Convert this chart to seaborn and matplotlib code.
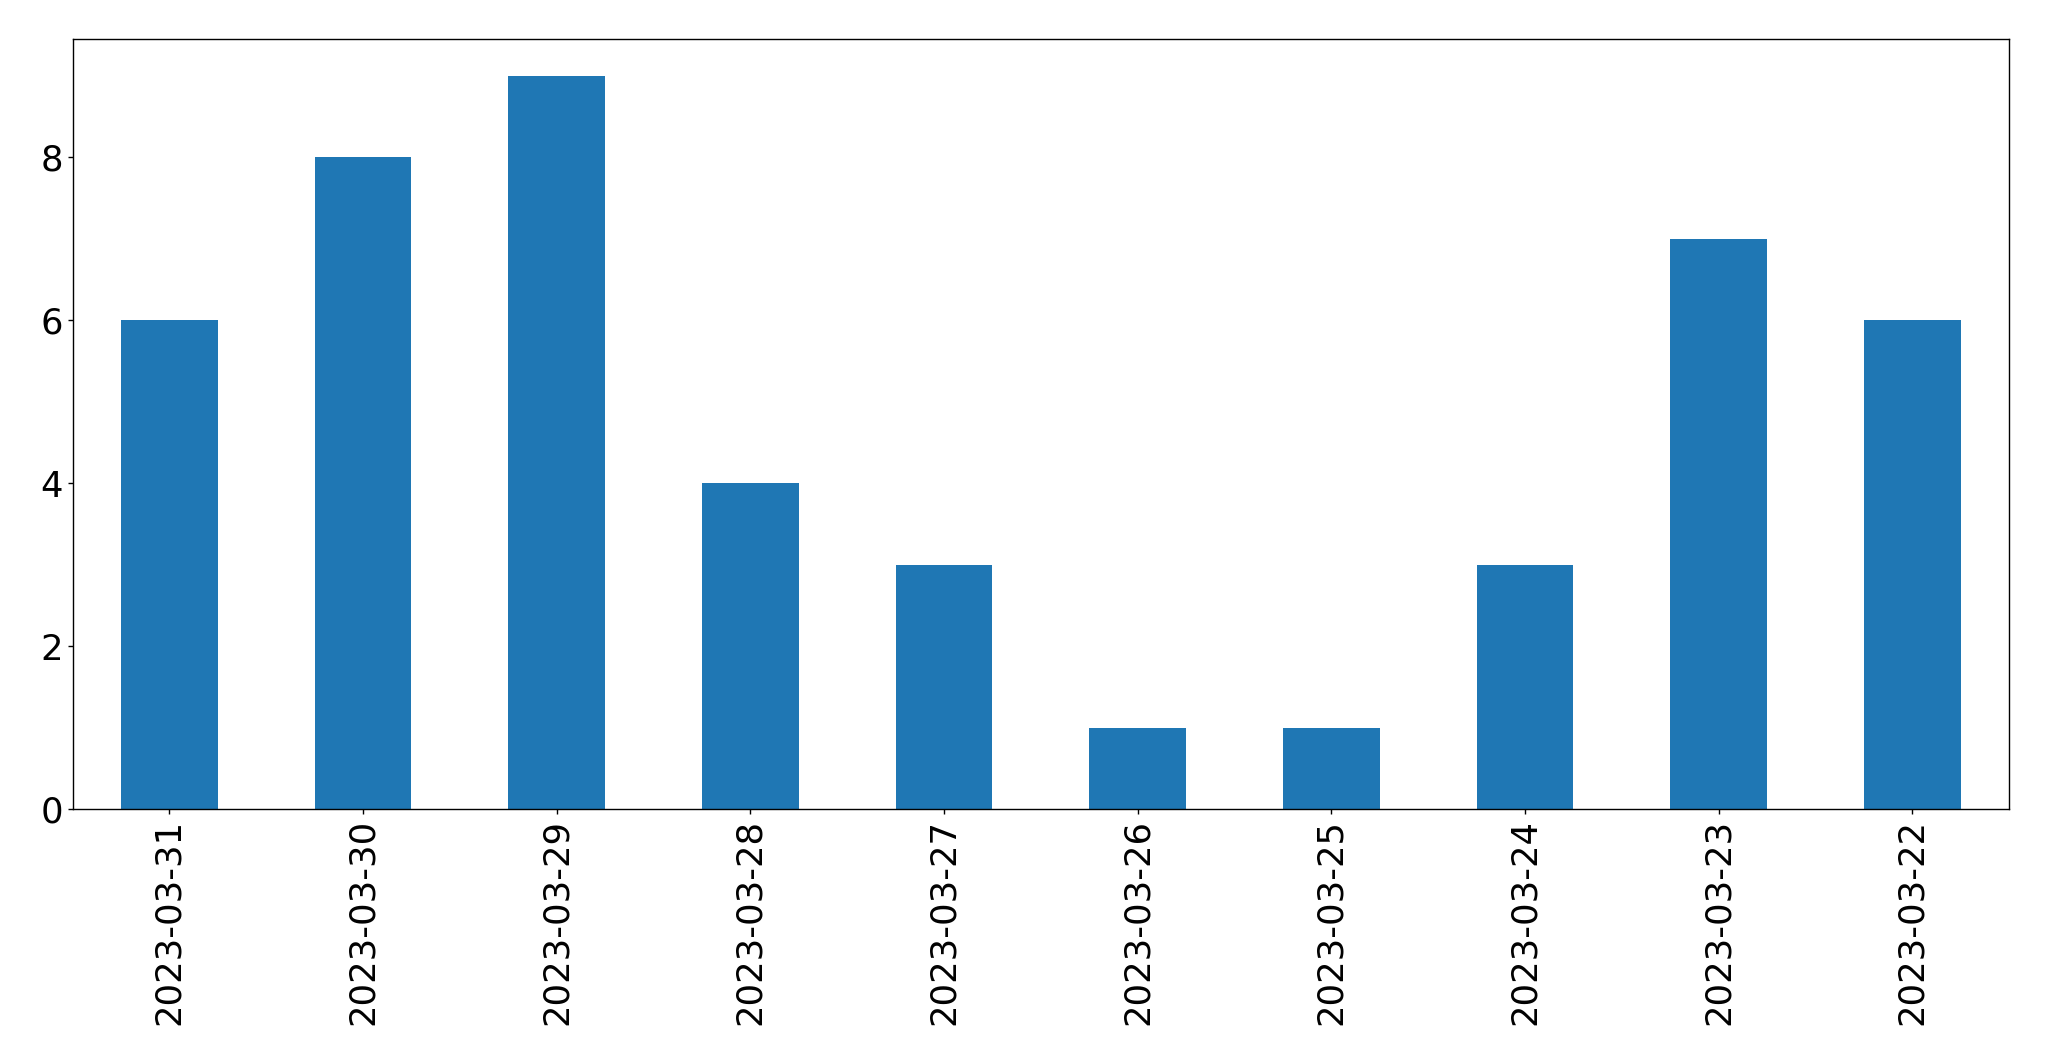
import matplotlib
matplotlib.use("Agg")
import matplotlib.pyplot as plt
import pandas as pd
import seaborn as sns

dates = ["2023-03-31", "2023-03-30", "2023-03-29", "2023-03-28", "2023-03-27",
         "2023-03-26", "2023-03-25", "2023-03-24", "2023-03-23", "2023-03-22"]
counts = [6, 8, 9, 4, 3, 1, 1, 3, 7, 6]

df = pd.DataFrame({"date": dates, "count": counts})

sns.set_style("ticks", rc={"axes.edgecolor": "black", "xtick.color": "black",
                           "ytick.color": "black", "text.color": "black",
                           "axes.labelcolor": "black"})
plt.rcParams["font.family"] = ["DejaVu Sans"]
fig, ax = plt.subplots(figsize=(20.49, 10.61), dpi=100)
sns.barplot(data=df, x="date", y="count", ax=ax, color="#1f77b4",
            saturation=1, width=0.5, order=dates, linewidth=0)
ax.set_xlim(-0.5, 9.5)
ax.set_ylim(0, 9.45)
ax.set_xlabel("")
ax.set_ylabel("")
ax.tick_params(axis="both", labelsize=25.5, colors="black", width=1)
ax.tick_params(axis="x", labelrotation=90)
for s in ax.spines.values():
    s.set_visible(True)
    s.set_linewidth(1)
    s.set_color("black")
fig.subplots_adjust(left=0.0354, right=0.9805, top=0.963, bottom=0.2375)
fig.savefig("out.png", dpi=100)
